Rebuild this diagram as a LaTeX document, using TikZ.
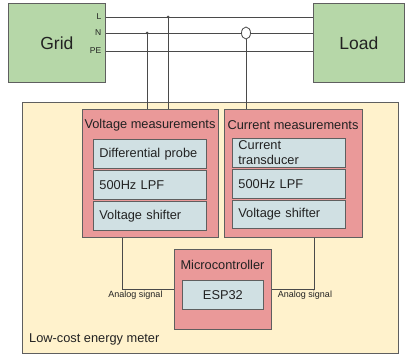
\documentclass[tikz,border=0pt]{standalone}
\usepackage{fontspec}
\setmainfont{Liberation Sans}
\usetikzlibrary{shapes.geometric}
\definecolor{gfill}{HTML}{B6D7A8}
\definecolor{yfill}{HTML}{FFF2CC}
\definecolor{rfill}{HTML}{EA9999}
\definecolor{bfill}{HTML}{D0E0E3}
\definecolor{edge}{HTML}{5F5F5F}
\definecolor{wire}{HTML}{4A4A4A}
\definecolor{txt}{HTML}{222222}
\begin{document}
\begin{tikzpicture}[x=1pt,y=-1pt, text=txt,
  box/.style={draw=edge, line width=0.8pt, anchor=north west, inner sep=0pt},
  gbox/.style={box, fill=gfill, font=\fontsize{17.5}{20}\selectfont},
  ybox/.style={box, fill=yfill},
  rbox/.style={box, fill=rfill},
  bbox/.style={box, fill=bfill, inner sep=6pt, align=left, font=\fontsize{12.8}{15}\selectfont},
  ttl/.style={font=\fontsize{12.8}{15}\selectfont, inner sep=0pt},
  small/.style={font=\fontsize{8.5}{9}\selectfont, inner sep=0pt, anchor=east},
  sig/.style={font=\fontsize{9}{10}\selectfont, inner sep=0pt, anchor=north},
  wirestyle/.style={draw=wire, line width=0.8pt}]
\useasboundingbox (0,0) rectangle (405,356);

% Grid and Load
\node[gbox, minimum width=97, minimum height=79] (grid) at (8,3) {Grid};
\node[gbox, minimum width=91, minimum height=79] (load) at (313,3) {Load};

\coordinate (yL) at (0,17);
\coordinate (yN) at (0,33);
\coordinate (yPE) at (0,51);
\node[small] (lL) at (101.5,17) {L};
\node[small] (lN) at (101.5,33) {N};
\node[small] (lPE) at (101.5,51) {PE};
\draw[wirestyle] (grid.east |- yL) -- (load.west |- yL);
\draw[wirestyle] (grid.east |- yN) -- (load.west |- yN);
\draw[wirestyle] (grid.east |- yPE) -- (load.west |- yPE);

% Meter enclosure
\node[ybox, minimum width=376, minimum height=251] (meter) at (22,102) {};
\node[ttl, anchor=west] (mtitle) at (29,339) {Low-cost energy meter};

% Voltage measurements
\node[rbox, minimum width=136, minimum height=128] (vm) at (82,109) {};
\node[ttl] (vmt) at (150,125) {Voltage measurements};
\node[bbox, minimum width=113, minimum height=29, text width=101] (dp) at (93,139) {Differential probe};
\node[bbox, minimum width=113, minimum height=29, text width=101] (vlpf) at (93,170) {500Hz LPF};
\node[bbox, minimum width=113, minimum height=29, text width=101] (vvs) at (93,201) {Voltage shifter};

% Current measurements
\node[rbox, minimum width=138, minimum height=128] (cm) at (224,109) {};
\node[ttl] (cmt) at (293,125) {Current measurements};
\node[bbox, minimum width=113, minimum height=29, text width=101, inner ysep=1pt] (ctr) at (232,138) {Current\\transducer};
\node[bbox, minimum width=113, minimum height=29, text width=101] (clpf) at (232,169) {500Hz LPF};
\node[bbox, minimum width=113, minimum height=28, text width=101] (cvs) at (232,200) {Voltage shifter};

% Microcontroller
\node[rbox, minimum width=97, minimum height=80] (mc) at (174,249) {};
\node[ttl] (mct) at (222.5,265) {Microcontroller};
\node[bbox, minimum width=81, minimum height=29, align=center] (esp) at (182,280) {ESP32};

% Taps on the line
\coordinate (jN) at (147,33);
\coordinate (jL) at (168,17);
\fill[wire] (jN) circle (1.5);
\fill[wire] (jL) circle (1.5);
\draw[wirestyle] (jN) -- (jN |- vm.north);
\draw[wirestyle] (jL) -- (jL |- vm.north);
\node[draw=wire, line width=0.8pt, fill=white, ellipse, inner sep=0pt, minimum width=9, minimum height=12] (ct) at (246,33) {};
\draw[wirestyle] (ct.south) -- (ct.south |- cm.north);

% Analog signals
\coordinate (aL) at (122,289);
\coordinate (aR) at (314,289);
\draw[wirestyle] (vm.south -| aL) -- (aL) -- (aL -| mc.west);
\draw[wirestyle] (cm.south -| aR) -- (aR) -- (aR -| mc.east);
\node[sig] (sigL) at (135.5,291) {Analog signal};
\node[sig] (sigR) at (305,291) {Analog signal};
\end{tikzpicture}
\end{document}
